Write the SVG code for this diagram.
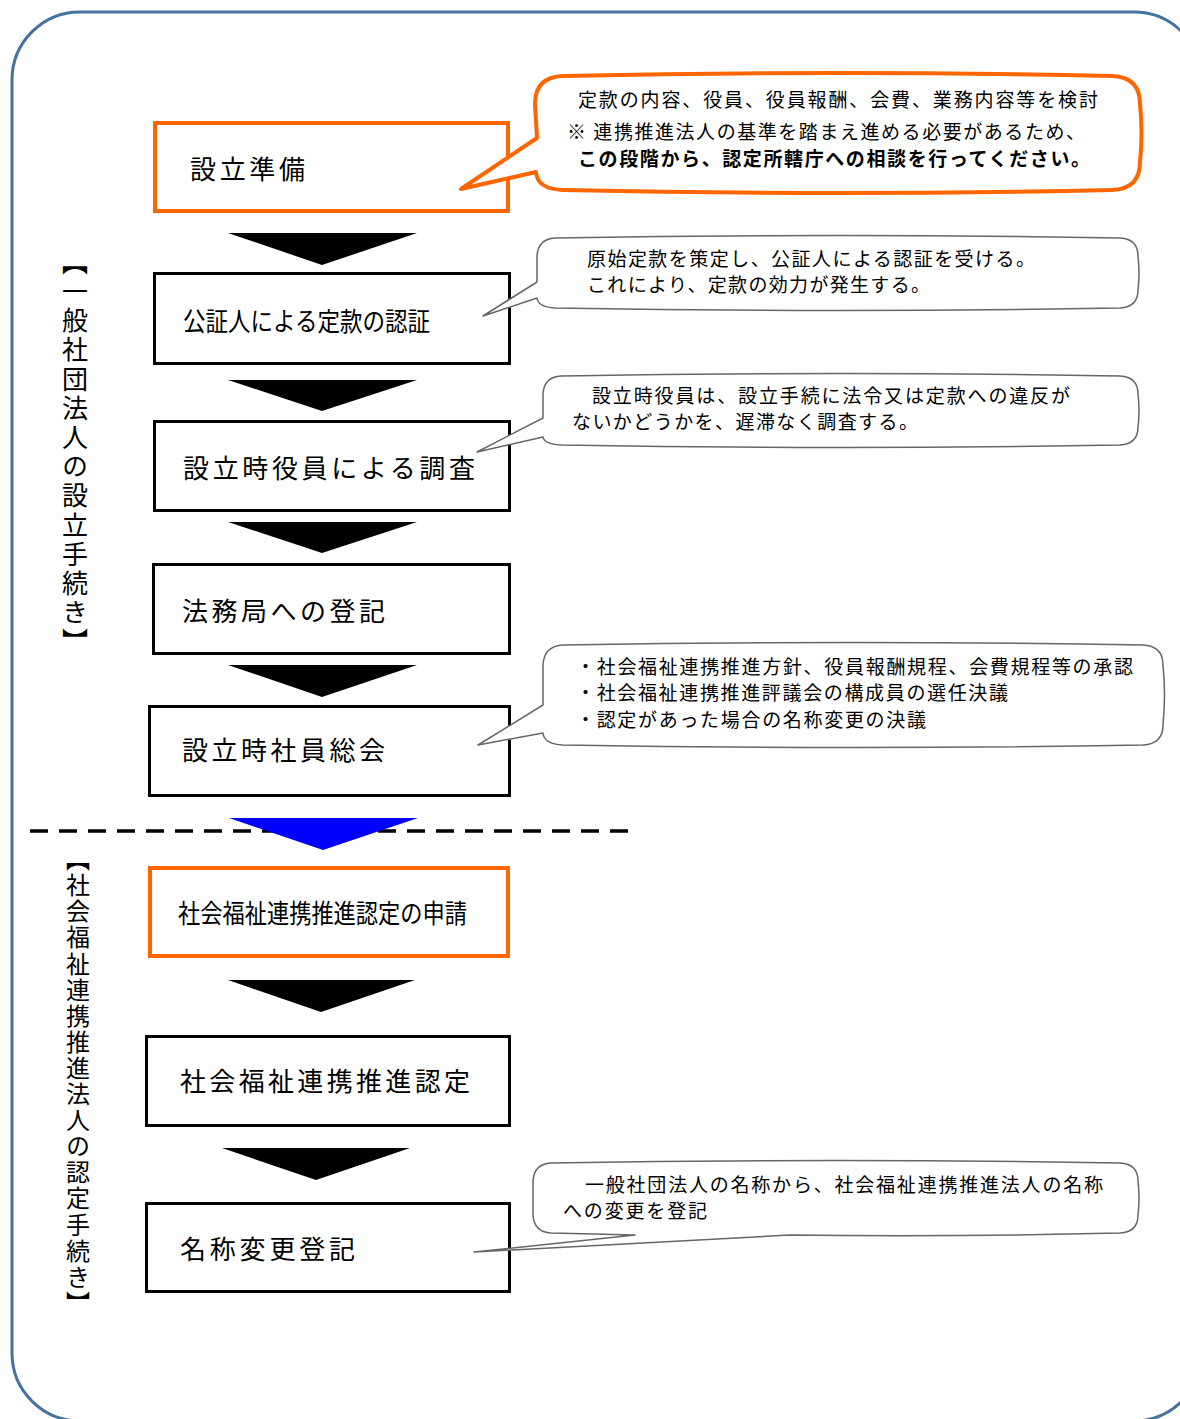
<svg xmlns="http://www.w3.org/2000/svg" width="1180" height="1419" viewBox="0 0 1180 1419">
<style>
text{font-family:"Noto Sans CJK JP","Noto Sans",sans-serif;fill:#000}
.bx{fill:#fff;stroke:#000;stroke-width:3}
.ob{fill:#fff;stroke:#FF6600;stroke-width:4}
.bt{font-size:26px}
.ct{font-size:19px}
.co{fill:#fff;stroke:#FF6600;stroke-width:4;stroke-linejoin:round}
.cg{fill:#fff;stroke:#666;stroke-width:1.5;stroke-linejoin:round}
.ar{fill:#000}
.vt{writing-mode:vertical-rl;font-size:26px}
</style>
<rect x="12" y="12" width="1190" height="1409" rx="68" ry="68" fill="#fff" stroke="#4472A0" stroke-width="3"/>

<g id="connectors">
<line x1="30" y1="831" x2="628" y2="831" stroke="#000" stroke-width="3.5" stroke-dasharray="18,11"/>
<polygon class="ar" points="228,233 417,233 322,265"/>
<polygon class="ar" points="228,380 417,380 322,411"/>
<polygon class="ar" points="228,522 417,522 322,553"/>
<polygon class="ar" points="228,665 417,665 322,697"/>
<polygon fill="#0000FF" points="229,818 418,818 323,850"/>
<polygon class="ar" points="228,980 415,980 321,1012"/>
<polygon class="ar" points="222,1148 410,1148 316,1180"/>
</g>

<g id="label-setup">
<text class="vt" x="75" y="249" style="letter-spacing:3.2px">【一般社団法人の設立手続き】</text>
</g>
<g id="label-cert">
<text class="vt" x="78" y="847" style="font-size:24px;letter-spacing:2.1px">【社会福祉連携推進法人の認定手続き】</text>
</g>

<g id="n1">
<rect class="ob" x="155" y="123" width="353" height="88"/>
<text class="bt" x="190" y="179" textLength="115">設立準備</text>
</g>
<g id="n2">
<rect class="bx" x="154.5" y="273.5" width="355" height="90"/>
<text class="bt" x="183" y="331" textLength="247" lengthAdjust="spacingAndGlyphs">公証人による定款の認証</text>
</g>
<g id="n3">
<rect class="bx" x="154.5" y="421.5" width="355" height="89"/>
<text class="bt" x="183" y="478" textLength="292">設立時役員による調査</text>
</g>
<g id="n4">
<rect class="bx" x="153.5" y="564.5" width="356" height="89"/>
<text class="bt" x="182" y="621" textLength="203">法務局への登記</text>
</g>
<g id="n5">
<rect class="bx" x="149.5" y="706.5" width="360" height="89"/>
<text class="bt" x="182" y="760" textLength="203">設立時社員総会</text>
</g>
<g id="n6">
<rect class="ob" x="150" y="868" width="358" height="88"/>
<text class="bt" x="178" y="923" textLength="289" lengthAdjust="spacingAndGlyphs">社会福祉連携推進認定の申請</text>
</g>
<g id="n7">
<rect class="bx" x="146.5" y="1036.5" width="363" height="89"/>
<text class="bt" x="180" y="1091" textLength="290">社会福祉連携推進認定</text>
</g>
<g id="n8">
<rect class="bx" x="146.5" y="1203.5" width="363" height="88"/>
<text class="bt" x="180" y="1259" textLength="175">名称変更登記</text>
</g>

<g id="c1">
<path class="co" d="M563,76 Q837,70 1112,76 Q1140,77 1140,104 Q1143,133 1140,162 Q1140,189 1112,190 Q837,196 563,190 Q537,189 536,172 L461,189 L537,138 L535,104 Q535,77 563,76 Z"/>
<text class="ct" x="578" y="107" textLength="520">定款の内容、役員、役員報酬、会費、業務内容等を検討</text>
<text class="ct" x="567" y="139" textLength="518">※ 連携推進法人の基準を踏まえ進める必要があるため、</text>
<text class="ct" x="578" y="166" textLength="512" font-weight="bold">この段階から、認定所轄庁への相談を行ってください。</text>
</g>
<g id="c2">
<path class="cg" d="M555,238 Q837,233 1120,238 Q1138,239 1138,256 Q1140,273 1138,290 Q1138,307 1120,308 Q837,313 555,308 Q538,307 537,298 L483,316 L537,282 L537,256 Q538,239 555,238 Z"/>
<text class="ct" x="587" y="266" textLength="448">原始定款を策定し、公証人による認証を受ける。</text>
<text class="ct" x="587" y="292" textLength="343">これにより、定款の効力が発生する。</text>
</g>
<g id="c3">
<path class="cg" d="M561,376 Q840,371 1120,376 Q1138,377 1138,394 Q1140,410 1138,427 Q1138,444 1120,445 Q840,450 561,445 Q544,444 543,437 L477,452 L543,418 L543,394 Q544,377 561,376 Z"/>
<text class="ct" x="592" y="403" textLength="478">設立時役員は、設立手続に法令又は定款への違反が</text>
<text class="ct" x="572" y="429" textLength="346">ないかどうかを、遅滞なく調査する。</text>
</g>
<g id="c4">
<path class="cg" d="M563,645 Q853,640 1143,645 Q1163,646 1163,665 Q1166,695 1163,725 Q1163,744 1143,745 Q853,750 563,745 Q544,744 543,733 L478,745 L543,705 L543,665 Q544,646 563,645 Z"/>
<text class="ct" x="576" y="674" textLength="557">・社会福祉連携推進方針、役員報酬規程、会費規程等の承認</text>
<text class="ct" x="576" y="700" textLength="432">・社会福祉連携推進評議会の構成員の選任決議</text>
<text class="ct" x="576" y="727" textLength="350">・認定があった場合の名称変更の決議</text>
</g>
<g id="c5">
<path class="cg" d="M551,1163 Q835,1158 1120,1163 Q1138,1164 1138,1181 Q1140,1198 1138,1215 Q1138,1232 1120,1233 Q955,1237 790,1235 L474,1252 L635,1235 Q590,1234 551,1233 Q534,1232 533,1215 L533,1181 Q534,1164 551,1163 Z"/>
<text class="ct" x="585" y="1192" textLength="518">一般社団法人の名称から、社会福祉連携推進法人の名称</text>
<text class="ct" x="563" y="1218" textLength="144">への変更を登記</text>
</g>
</svg>
